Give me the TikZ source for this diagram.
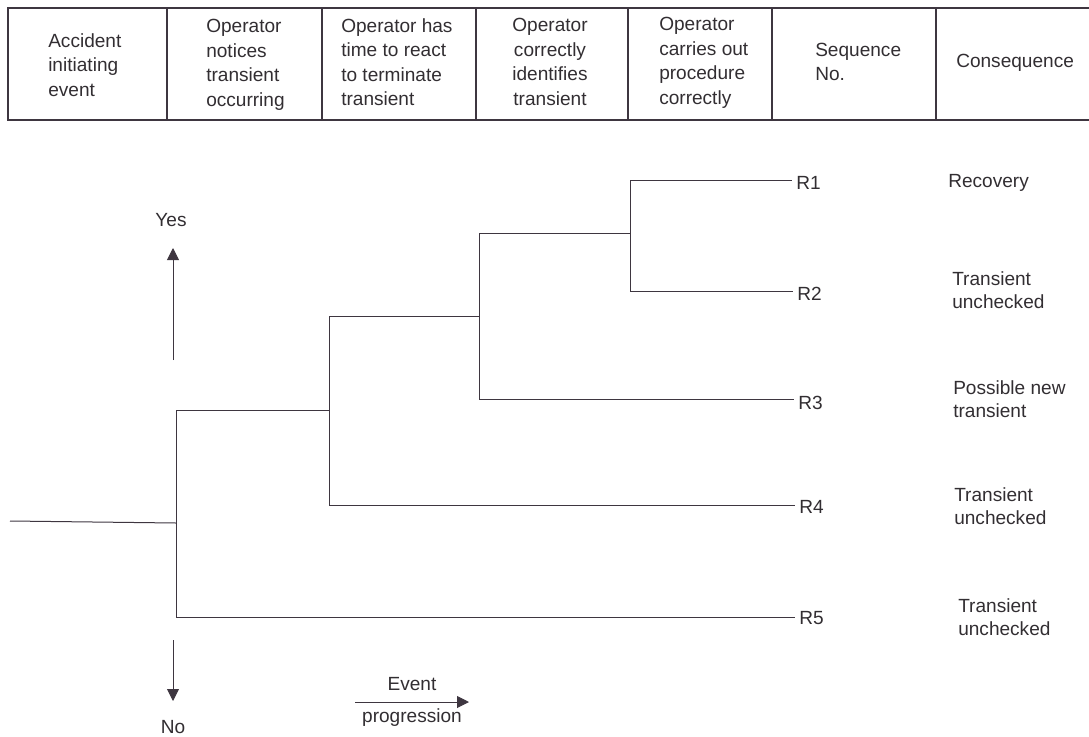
\documentclass[tikz,border=0pt]{standalone}
\usepackage{fontspec}
\setmainfont{Liberation Sans}
\usetikzlibrary{arrows.meta}
\definecolor{ink}{RGB}{62,54,64}
\definecolor{txt}{RGB}{50,46,50}
\begin{document}
\begin{tikzpicture}[x=0.75pt,y=-0.75pt,
  rule/.style={draw=ink,line width=0.9pt},
  branch/.style={draw=ink,line width=0.75pt},
  hdr/.style={text=txt,font=\fontsize{14.3}{18.4}\selectfont,align=left,inner sep=0pt},
  lbl/.style={text=txt,font=\fontsize{14.3}{17.6}\selectfont,align=left,inner sep=0pt},
  seq/.style={lbl,inner xsep=3pt},
  pointer/.style={draw=ink,line width=0.7pt,-{Triangle[length=9pt,width=9pt]}}]
\useasboundingbox (0,0) rectangle (1089,736);

% header table
\draw[rule] (1089,8) -- (8,8) -- (8,120) -- (1089,120);
\foreach \x in {167,322,476,628,772,936} \draw[rule] (\x,8) -- (\x,120);

\node[hdr,anchor=west] (h1) at (48,65) {Accident\\initiating\\event};
\node[hdr,anchor=west] (h2) at (206,65) {Operator\\notices\\transient\\occurring};
\node[hdr,anchor=west] (h3) at (341,62) {Operator has\\time to react\\to terminate\\transient};
\node[hdr,align=center] (h4) at (550,62) {Operator\\correctly\\identifies\\transient};
\node[hdr,anchor=west] (h5) at (659,63) {Operator\\carries out\\procedure\\correctly};
\node[hdr,anchor=west] (h6) at (815,62) {Sequence\\No.};
\node[hdr,anchor=west] (h7) at (956,63) {Consequence};

% event tree junctions
\coordinate (start) at (10,521);
\coordinate (j1) at (176,523);
\coordinate (j1u) at (176,410);
\coordinate (j1d) at (176,617);
\coordinate (j2) at (329,410);
\coordinate (j2u) at (329,316);
\coordinate (j2d) at (329,505);
\coordinate (j3) at (479,316);
\coordinate (j3u) at (479,233);
\coordinate (j3d) at (479,399);
\coordinate (j4) at (630,233);
\coordinate (j4u) at (630,180);
\coordinate (j4d) at (630,291);

% sequence labels
\node[seq,anchor=west] (r1) at (792,183) {R1};
\node[seq,anchor=west] (r2) at (793,294) {R2};
\node[seq,anchor=west] (r3) at (794,403) {R3};
\node[seq,anchor=west] (r4) at (795,507) {R4};
\node[seq,anchor=west] (r5) at (795,618) {R5};

% branches
\draw[branch] (start) -- (j1);
\draw[branch] (j1u) -- (j1d);
\draw[branch] (j1u) -- (j2);
\draw[branch] (j1d) -- (j1d -| r5.west);
\draw[branch] (j2u) -- (j2d);
\draw[branch] (j2u) -- (j3);
\draw[branch] (j2d) -- (j2d -| r4.west);
\draw[branch] (j3u) -- (j3d);
\draw[branch] (j3u) -- (j4);
\draw[branch] (j3d) -- (j3d -| r3.west);
\draw[branch] (j4u) -- (j4d);
\draw[branch] (j4u) -- (j4u -| r1.west);
\draw[branch] (j4d) -- (j4d -| r2.west);

% consequences
\node[lbl,anchor=west] (c1) at (948,183) {Recovery};
\node[lbl,anchor=west] (c2) at (952,290) {Transient\\unchecked};
\node[lbl,anchor=west] (c3) at (953,399) {Possible new\\transient};
\node[lbl,anchor=west] (c4) at (954,506) {Transient\\unchecked};
\node[lbl,anchor=west] (c5) at (958,617) {Transient\\unchecked};

% direction keys
\node[lbl] (yes) at (171,220) {Yes};
\coordinate (yesfoot) at (173,360);
\coordinate (yestip) at (173,248);
\draw[pointer] (yesfoot) -- (yestip);
\node[lbl] (no) at (173,727) {No};
\coordinate (nofoot) at (173,640);
\coordinate (notip) at (173,701);
\draw[pointer] (nofoot) -- (notip);
\node[lbl] (ev) at (412,684) {Event};
\node[lbl] (prog) at (412,718) {progression};
\coordinate (evtail) at (355,702);
\coordinate (evtip) at (469,702);
\draw[pointer] (evtail) -- (evtip);
\end{tikzpicture}
\end{document}
